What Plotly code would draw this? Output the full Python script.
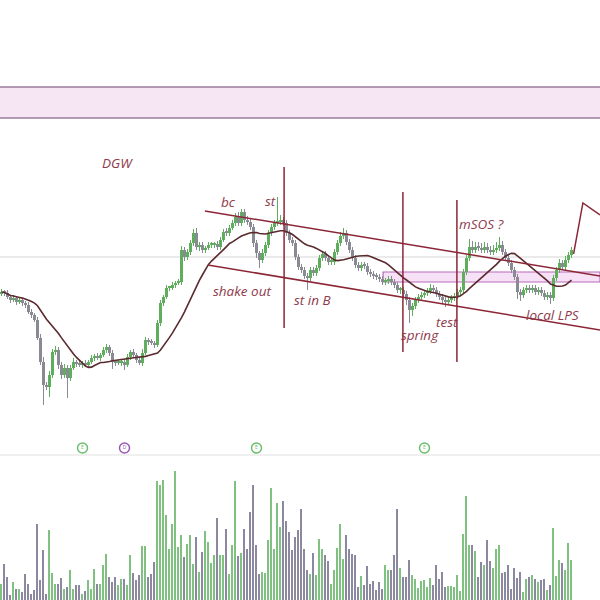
import plotly.graph_objects as go
import pandas as pd

# ---- data (price units, index = trading session) ----
close = [148,147,143,140,142,138,140,137,135,128,
         125,120,102,78,55,53,65,88,90,75,
         65,72,62,72,78,76,75,77,75,78,
         82,84,82,85,90,93,87,78,77,77,
         78,75,83,88,85,80,77,87,100,98,
         97,95,117,137,143,152,152,155,157,158,
         190,183,188,197,207,193,195,190,192,195,
         195,196,193,200,208,207,212,217,223,217,
         228,220,218,213,197,187,180,187,195,207,
         213,217,218,220,217,207,200,197,183,173,
         170,164,162,170,167,172,182,186,182,178,
         178,188,197,204,207,198,190,182,175,172,
         175,174,168,166,164,163,161,158,159,161,
         158,155,150,150,146,140,130,134,140,143,
         145,147,149,152,150,146,143,140,138,140,
         142,144,148,150,168,182,193,190,193,192,
         190,193,190,188,190,192,195,188,182,177,
         170,163,148,145,150,152,150,152,148,150,
         147,143,145,142,162,170,177,173,180,185,190]
first_open = 146

upper_wick = [3,2,3,2,3,2,3,2,2,3,
              3,2,3,4,5,3,4,3,4,3,
              3,4,3,3,4,2,3,2,3,2,
              3,2,3,2,3,3,2,3,2,3,
              2,3,3,2,3,2,3,4,3,2,
              3,2,3,3,2,3,2,3,2,3,
              4,3,3,3,4,5,3,3,2,3,
              3,2,3,3,3,4,3,3,4,5,
              3,3,4,3,3,3,2,4,3,3,
              3,3,25,5,3,3,3,3,3,3,
              3,3,3,3,3,3,3,3,3,3,
              3,3,3,4,5,3,3,3,3,3,
              3,3,3,3,3,3,3,3,3,3,
              3,3,3,3,3,3,3,3,3,3,
              3,3,3,4,3,3,3,3,3,3,
              3,3,3,3,3,3,8,6,5,5,
              5,5,4,4,5,6,8,4,3,3,
              3,3,3,3,3,3,3,3,3,3,
              3,3,3,3,3,3,4,3,4,3,3]
lower_wick = [2,3,2,3,2,3,2,3,3,2,
              3,2,2,3,20,3,10,3,3,4,
              4,3,20,3,2,3,2,3,2,3,
              2,3,2,3,2,3,3,7,3,2,
              3,5,2,3,2,3,2,3,2,3,
              2,3,2,3,3,2,3,2,3,2,
              3,4,3,3,3,3,4,3,3,2,
              3,3,3,3,2,3,3,2,3,3,
              3,3,3,3,4,5,8,3,3,3,
              3,3,3,3,3,3,3,3,3,3,
              3,3,12,3,3,3,3,3,3,3,
              3,3,3,3,3,3,3,3,3,3,
              3,3,3,3,3,3,3,3,3,3,
              3,3,3,4,5,5,13,6,3,3,
              3,3,3,3,3,3,3,4,5,3,
              3,3,3,3,3,3,3,3,3,3,
              3,3,3,3,3,3,3,3,3,3,
              3,3,7,6,3,3,3,3,3,3,
              3,3,3,6,3,3,3,3,3,3,3]

volume = [16,36,23,5,18,11,11,8,26,16,
          6,10,76,20,50,6,70,27,16,16,
          22,11,13,30,11,15,15,6,9,20,
          11,31,16,16,35,46,23,18,23,15,
          21,21,15,45,27,20,25,54,54,23,
          26,38,119,115,120,85,51,76,129,53,
          65,43,56,65,36,63,28,48,69,58,
          37,45,82,45,45,71,26,55,119,44,
          47,71,51,88,115,55,26,28,27,60,
          112,51,97,73,99,79,68,50,63,70,
          91,
          51,30,26,47,25,61,51,45,39,16,
          30,52,76,41,65,51,46,45,13,24,
          15,34,16,19,10,18,11,35,30,30,
          45,91,32,23,23,40,25,21,12,19,
          20,13,22,15,35,21,28,13,14,14,
          13,25,9,66,104,55,55,49,23,38,
          35,60,39,32,51,55,27,28,35,11,
          32,22,28,8,21,23,25,21,18,20,
          21,10,15,72,24,40,37,30,57,40]

ma_period = 17
event_idx = [27, 41, 85, 141]
event_labels = ["E", "D", "E", "E"]
event_colors = ["#6cbf6c", "#9b59b6", "#6cbf6c", "#6cbf6c"]

notes = ["DGW", "bc", "st", "shake out", "st in B", "spring", "test", "mSOS ?", "local LPS"]
note_x = [38.5, 75.5, 89.5, 80, 103.5, 139.5, 148.5, 160, 183.8]
note_y = [277, 238, 239, 149, 140, 105, 118, 216, 125]

# ---- derived ----
n = len(close)
idx = list(range(n))
opens = [first_open] + close[:-1]
highs = [max(o, c) + u for o, c, u in zip(opens, close, upper_wick)]
lows = [min(o, c) - l for o, c, l in zip(opens, close, lower_wick)]
ma = pd.Series(close).rolling(ma_period, min_periods=1).mean().tolist()
up = [c >= o for o, c in zip(opens, close)]
vol_colors = ["#80c080" if u else "#8c88a0" for u in up]

UP_C, DN_C = "#5eae5e", "#8a8a94"
MAROON = "#8b2636"
TXT = "#8e3a4c"

fig = go.Figure()
# wicks
for flag, col in ((True, UP_C), (False, DN_C)):
    wx, wy = [], []
    for i in idx:
        if up[i] == flag:
            wx += [i, i, None]
            wy += [lows[i], highs[i], None]
    fig.add_trace(go.Scatter(x=wx, y=wy, mode="lines", line=dict(color=col, width=1),
                             showlegend=False, hoverinfo="skip", xaxis="x", yaxis="y"))
# bodies
body_base = [min(o, c) for o, c in zip(opens, close)]
body_h = [max(abs(c - o), 1.5) for o, c in zip(opens, close)]
fig.add_trace(go.Bar(x=idx, y=body_h, base=body_base, width=0.72,
                     marker=dict(color=[UP_C if u else DN_C for u in up], line=dict(width=0)),
                     showlegend=False, xaxis="x", yaxis="y"))
fig.add_trace(go.Scatter(x=idx, y=ma, mode="lines",
                         line=dict(color="#5a2a2e", width=1.6),
                         showlegend=False, xaxis="x", yaxis="y"))
fig.add_trace(go.Bar(x=idx, y=volume, marker=dict(color=vol_colors, line=dict(width=0)),
                     width=0.66, showlegend=False, xaxis="x", yaxis="y2"))
fig.add_trace(go.Scatter(
    x=event_idx, y=[152] * len(event_idx), mode="markers+text",
    text=event_labels, textposition="middle center",
    textfont=dict(size=5, color=event_colors),
    marker=dict(size=10, color="white", line=dict(color=event_colors, width=1.5)),
    showlegend=False, xaxis="x", yaxis="y2", cliponaxis=False))

shapes = []
shapes.append(dict(type="rect", xref="paper", yref="y", x0=0, x1=1, y0=322, y1=353,
                   fillcolor="#f6e6f4", line=dict(width=0), layer="below"))
for yy in (322, 353):
    shapes.append(dict(type="line", xref="paper", yref="y", x0=0, x1=1, y0=yy, y1=yy,
                       line=dict(color="#9a7c98", width=1.5)))
shapes.append(dict(type="line", xref="paper", yref="y", x0=0, x1=1, y0=183, y1=183,
                   line=dict(color="#d6d6d6", width=1), layer="below"))
shapes.append(dict(type="rect", xref="x", yref="y", x0=127.2, x1=199.5, y0=158, y1=168,
                   fillcolor="rgba(240,200,240,0.55)", line=dict(color="#b86ab8", width=1.2),
                   layer="below"))
shapes.append(dict(type="line", xref="x", yref="y", x0=67.8, y0=229, x1=199.5, y1=164,
                   line=dict(color=MAROON, width=1.5)))
shapes.append(dict(type="line", xref="x", yref="y", x0=68.8, y0=175, x1=199.5, y1=110,
                   line=dict(color=MAROON, width=1.5)))
for xv, ya, yb in ((94.2, 273, 112), (133.8, 248, 88), (151.8, 240, 78)):
    shapes.append(dict(type="line", xref="x", yref="y", x0=xv, x1=xv, y0=yb, y1=ya,
                       line=dict(color=MAROON, width=1.5)))
shapes.append(dict(type="path", xref="x", yref="y",
                   path="M 190.7 186 L 193.8 237 L 199.5 225",
                   line=dict(color=MAROON, width=1.5)))
shapes.append(dict(type="line", xref="paper", yref="y2", x0=0, x1=1, y0=145, y1=145,
                   line=dict(color="#e2e2e2", width=1.2), layer="below"))

annotations = [dict(x=x, y=y, xref="x", yref="y", text=t, showarrow=False,
                    font=dict(family="Open Sans", size=13.5, color=TXT, style="italic"))
               for t, x, y in zip(notes, note_x, note_y)]

fig.update_layout(
    width=600, height=600, margin=dict(l=0, r=0, t=0, b=0),
    paper_bgcolor="white", plot_bgcolor="white",
    shapes=shapes, annotations=annotations, bargap=0, barmode="overlay",
    xaxis=dict(range=[-0.5, 199.5], visible=False),
    yaxis=dict(domain=[0.2667, 1], range=[0, 440], visible=False),
    yaxis2=dict(domain=[0, 0.2667], range=[0, 160], visible=False, anchor="x"),
)

fig.write_html("out.html", config={"displayModeBar": False},
               post_script="document.body.style.margin='0';document.body.style.overflow='hidden';")
